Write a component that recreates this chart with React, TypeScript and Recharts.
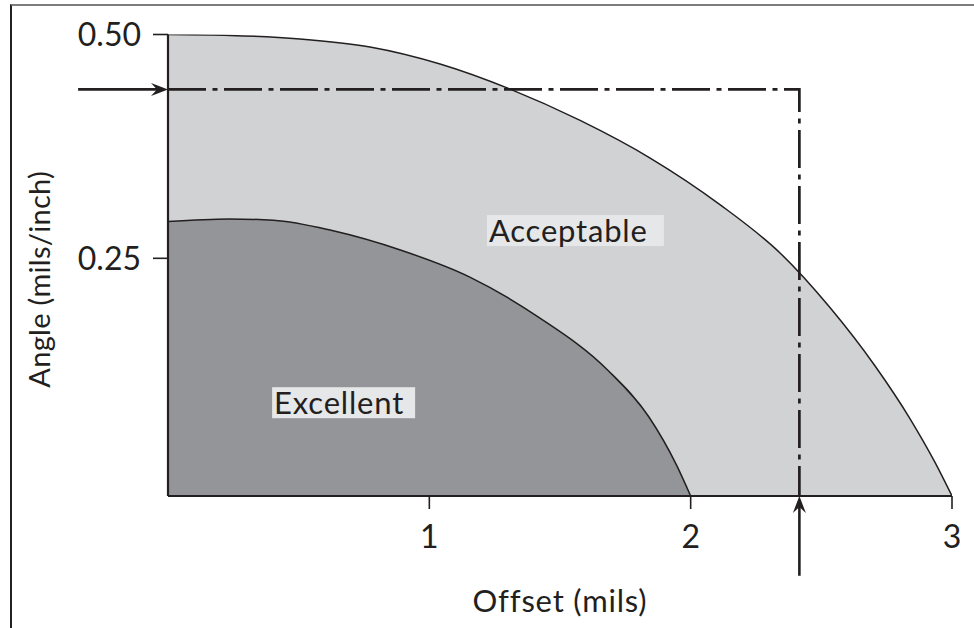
import React from 'react'
import {
  ComposedChart,
  Area,
  Line,
  XAxis,
  YAxis,
  ReferenceLine,
  ReferenceDot,
  Label,
} from 'recharts'

// outer boundary of the "Acceptable" zone (offset mils, angle mils/inch)
const acceptable = [
  { x: 0, y: 0.5 },
  { x: 0.237, y: 0.499 },
  { x: 0.505, y: 0.495 },
  { x: 0.773, y: 0.486 },
  { x: 1.041, y: 0.467 },
  { x: 1.309, y: 0.439 },
  { x: 1.577, y: 0.404 },
  { x: 1.845, y: 0.362 },
  { x: 2.112, y: 0.31 },
  { x: 2.342, y: 0.256 },
  { x: 2.533, y: 0.195 },
  { x: 2.705, y: 0.13 },
  { x: 2.839, y: 0.071 },
  { x: 2.935, y: 0.022 },
  { x: 3, y: -0.0155 },
]

// outer boundary of the "Excellent" zone
const excellent = [
  { x: 0, y: 0.291 },
  { x: 0.233, y: 0.294 },
  { x: 0.404, y: 0.2925 },
  { x: 0.628, y: 0.281 },
  { x: 0.892, y: 0.259 },
  { x: 1.155, y: 0.229 },
  { x: 1.419, y: 0.184 },
  { x: 1.683, y: 0.125 },
  { x: 1.841, y: 0.0725 },
  { x: 1.946, y: 0.019 },
  { x: 2, y: -0.0155 },
]

// dash-dot reading guide
const guide = [
  { x: 0, y: 0.4387 },
  { x: 2.416, y: 0.4387 },
  { x: 2.416, y: -0.0155 },
]

const xTicks = [1, 2, 3]
const yTicks = [0.25, 0.5]
const yDomain = [-0.0155, 0.5]

const zoneLabels = [
  { text: 'Acceptable', x: 1.559, y: 0.281 },
  { text: 'Excellent', x: 0.672, y: 0.0887 },
]
const labelBoxWidth: Record<string, number> = { Acceptable: 177, Excellent: 143 }

const INK = '#231f20'
const FONT = 'Lato, "Open Sans", sans-serif'

// solid arrow with a swept-back head, tip at (x2, y2)
// eslint-disable-next-line @typescript-eslint/no-explicit-any
function Arrow(p: any) {
  const { x1, y1, x2, y2 } = p
  const a = Math.atan2(y2 - y1, x2 - x1)
  const c = Math.cos(a)
  const s = Math.sin(a)
  const L = 17
  const W = 6.5
  const notch = 11
  const bx = x2 - L * c
  const by = y2 - L * s
  const nx = x2 - notch * c
  const ny = y2 - notch * s
  const pts = [
    [x2, y2],
    [bx - s * W, by + c * W],
    [nx, ny],
    [bx + s * W, by - c * W],
  ]
    .map((q) => q.join(','))
    .join(' ')
  return (
    <g>
      <line x1={x1} y1={y1} x2={nx} y2={ny} stroke={INK} strokeWidth={2.6} />
      <polygon points={pts} fill={INK} />
    </g>
  )
}

function ZoneTag(text: string) {
  // eslint-disable-next-line @typescript-eslint/no-explicit-any
  return (p: any) => {
    const w = labelBoxWidth[text]
    const h = 31
    return (
      <g>
        <rect x={p.cx - w / 2} y={p.cy - h / 2} width={w} height={h} fill="#e6e7e9" />
        <text
          x={p.cx - w / 2 + 2}
          y={p.cy + 11}
          fontSize={31}
          fontFamily={FONT}
          fill={INK}
          letterSpacing={0.8}
        >
          {text}
        </text>
      </g>
    )
  }
}

export default function App() {
  const tickStyle = { fontSize: 32, fontFamily: FONT, fill: INK }
  return (
    <div style={{ position: 'absolute', left: 0, top: 0, width: 974, height: 628, background: '#fff' }}>
      {/* page frame */}
      <div
        style={{
          position: 'absolute',
          left: 10,
          top: 4,
          right: 0,
          bottom: 0,
          borderTop: '2px solid #7d7d7d',
          borderLeft: '2px solid #222',
        }}
      />
      <div style={{ position: 'absolute', left: 0, top: 0 }}>
        <ComposedChart
          width={974}
          height={628}
          margin={{ top: 34.5, right: 22, bottom: 72, left: 78 }}
        >
          <XAxis
            type="number"
            dataKey="x"
            domain={[0, 3]}
            ticks={xTicks}
            allowDataOverflow
            height={60}
            tickSize={13}
            tickMargin={16}
            tick={tickStyle}
            axisLine={{ stroke: INK, strokeWidth: 2.2 }}
            tickLine={{ stroke: INK, strokeWidth: 1.6 }}
          >
            <Label
              value="Offset (mils)"
              position="insideBottom"
              offset={-56}
              style={{ fontSize: 31, fontFamily: FONT, fill: INK, letterSpacing: 0.8 }}
            />
          </XAxis>
          <YAxis
            type="number"
            domain={yDomain}
            ticks={yTicks}
            allowDataOverflow
            width={90}
            tickSize={15}
            tickMargin={12}
            tick={tickStyle}
            tickFormatter={(v: number) => v.toFixed(2)}
            axisLine={{ stroke: INK, strokeWidth: 2.2 }}
            tickLine={{ stroke: INK, strokeWidth: 1.6 }}
          >
            <Label
              value="Angle (mils/inch)"
              angle={-90}
              position="insideLeft"
              offset={-38}
              dy={14}
              style={{ fontSize: 29, fontFamily: FONT, fill: INK, textAnchor: 'middle', letterSpacing: 0.3 }}
            />
          </YAxis>

          <Area
            data={acceptable}
            dataKey="y"
            type="monotone"
            baseValue="dataMin"
            fill="#d1d2d4"
            fillOpacity={1}
            stroke={INK}
            strokeWidth={1.5}
            isAnimationActive={false}
          />
          <Area
            data={excellent}
            dataKey="y"
            type="monotone"
            baseValue="dataMin"
            fill="#939598"
            fillOpacity={1}
            stroke={INK}
            strokeWidth={1.5}
            isAnimationActive={false}
          />
          <Line
            data={guide}
            dataKey="y"
            type="linear"
            stroke={INK}
            strokeWidth={2.7}
            strokeDasharray="38 6.5 5 6.5"
            dot={false}
            isAnimationActive={false}
          />

          <ReferenceLine
            segment={[
              { x: -0.344, y: 0.4387 },
              { x: 0, y: 0.4387 },
            ]}
            ifOverflow="visible"
            shape={Arrow}
          />
          <ReferenceLine
            segment={[
              { x: 2.416, y: -0.1046 },
              { x: 2.416, y: -0.0155 },
            ]}
            ifOverflow="visible"
            shape={Arrow}
          />

          {zoneLabels.map((z) => (
            <ReferenceDot
              key={z.text}
              x={z.x}
              y={z.y}
              ifOverflow="visible"
              shape={ZoneTag(z.text)}
            />
          ))}
        </ComposedChart>
      </div>
    </div>
  )
}
